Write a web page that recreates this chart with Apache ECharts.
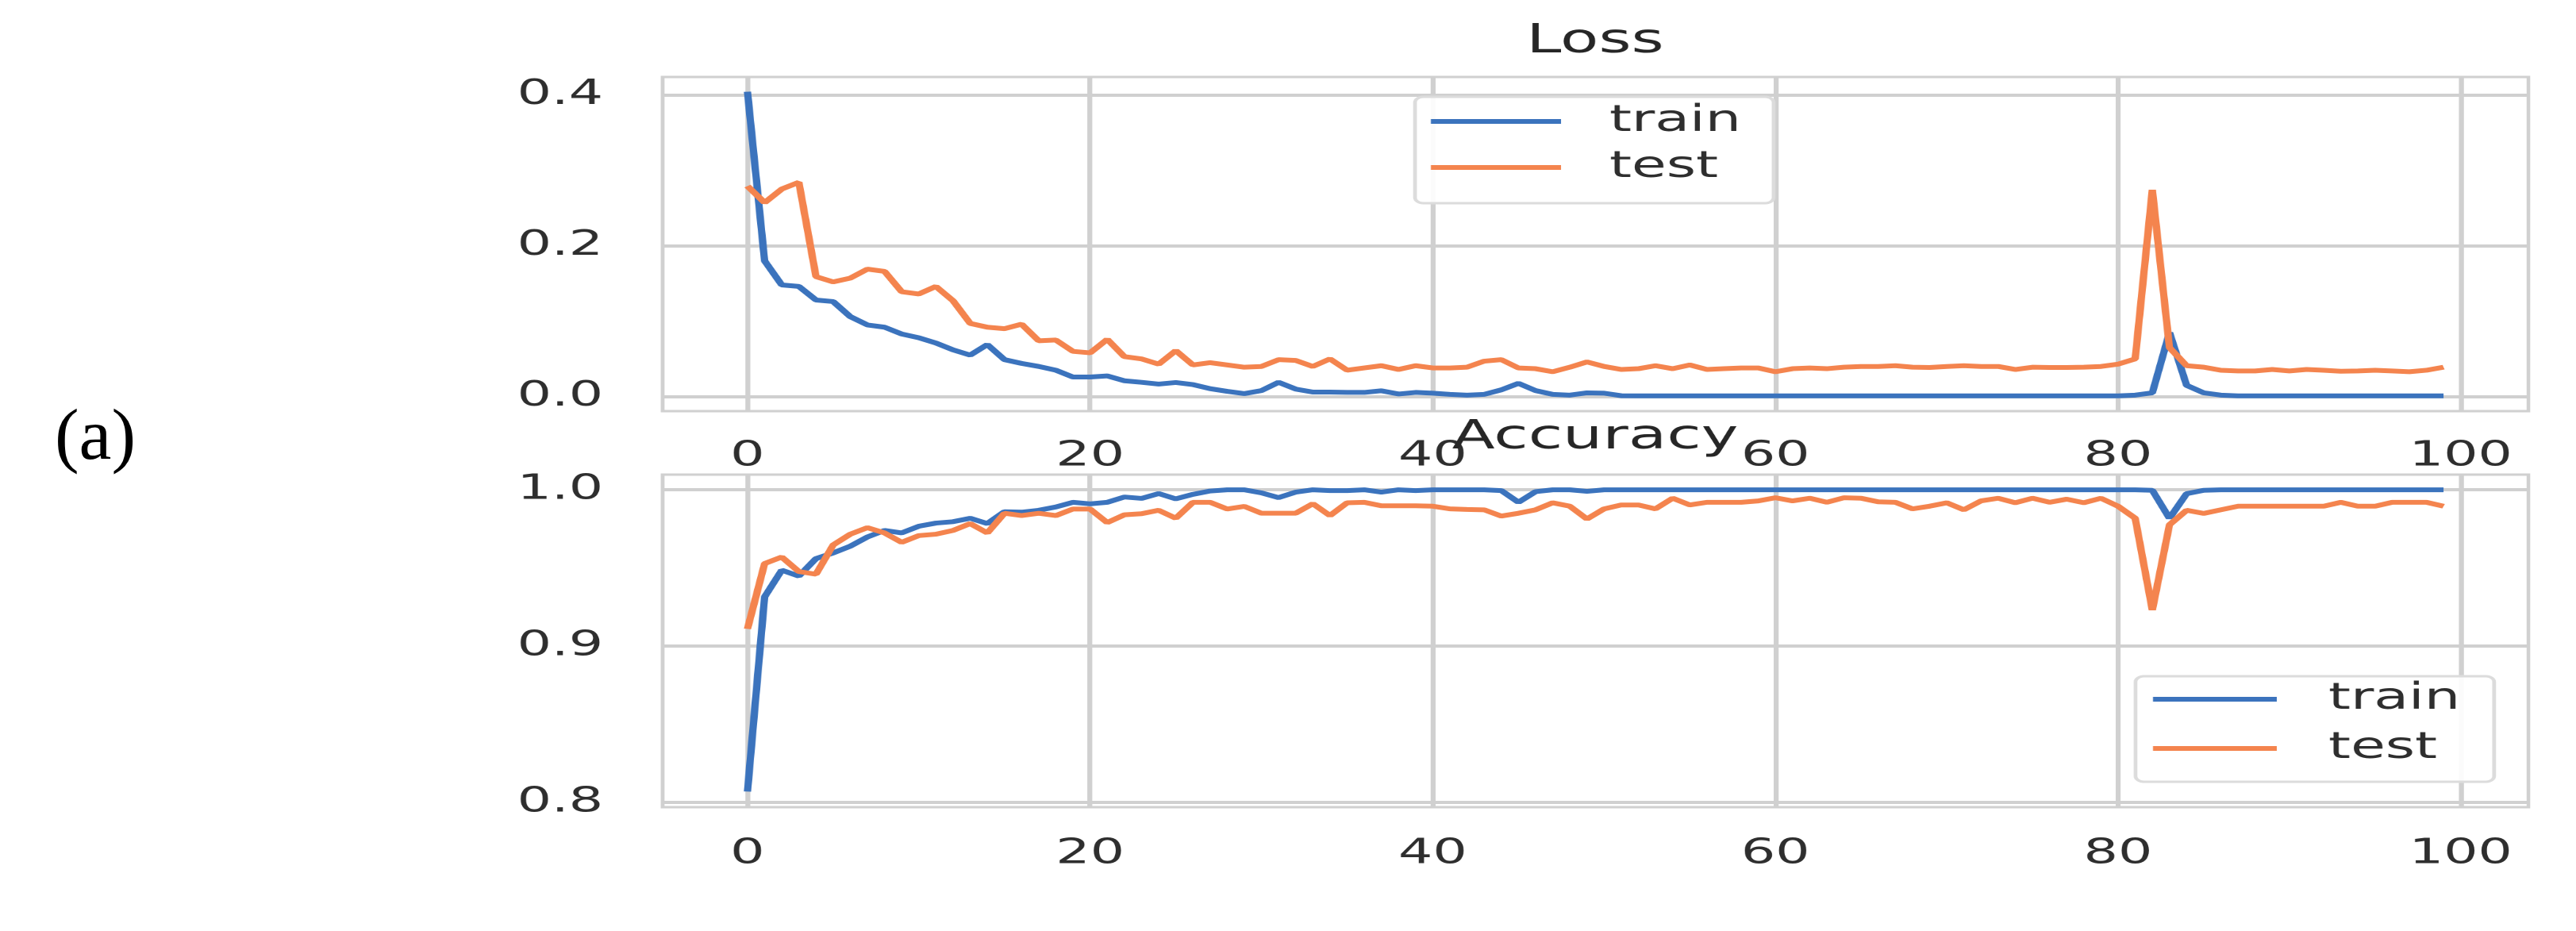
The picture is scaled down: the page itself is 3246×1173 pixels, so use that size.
<!DOCTYPE html>
<html>
<head>
<meta charset="utf-8">
<script src="https://cdn.jsdelivr.net/npm/echarts@6/dist/echarts.min.js"></script>
<style>
html,body{margin:0;padding:0;background:#ffffff;overflow:hidden;width:3246px;height:1173px;}
#main{position:absolute;left:0;top:0;height:1173px;transform-origin:0 0;}
#tag{position:absolute;left:20px;top:470px;width:220px;height:180px;}
</style>
</head>
<body>
<div id="main"></div>
<div id="tag"></div>
<script>
// ---------------- data ----------------
const xTicks = [0, 20, 40, 60, 80, 100];
const lossTicks = [0.0, 0.2, 0.4];
const accTicks = [0.8, 0.9, 1.0];
const seriesNames = ['train', 'test'];

const lossTrain = [
  0.404, 0.180, 0.148, 0.146, 0.128, 0.126, 0.106, 0.095, 0.092, 0.083,
  0.078, 0.071, 0.062, 0.055, 0.069, 0.049, 0.044, 0.040, 0.035, 0.026,
  0.026, 0.0275, 0.021, 0.019, 0.0166, 0.0187, 0.016, 0.0106, 0.007, 0.004,
  0.008, 0.019, 0.010, 0.006, 0.006, 0.0056, 0.0056, 0.0078, 0.0035, 0.0056,
  0.0046, 0.003, 0.002, 0.003, 0.009, 0.0176, 0.008, 0.003, 0.002, 0.005,
  0.0046, 0.0012, 0.001, 0.001, 0.001, 0.001, 0.001, 0.001, 0.001, 0.001,
  0.001, 0.001, 0.001, 0.001, 0.001, 0.001, 0.001, 0.001, 0.001, 0.001,
  0.001, 0.001, 0.001, 0.001, 0.001, 0.001, 0.001, 0.001, 0.001, 0.001,
  0.001, 0.002, 0.005, 0.085, 0.015, 0.005, 0.002, 0.001, 0.001, 0.001,
  0.001, 0.001, 0.001, 0.001, 0.001, 0.001, 0.001, 0.001, 0.001, 0.001
];
const lossTest = [
  0.279, 0.257, 0.275, 0.284, 0.159, 0.152, 0.157, 0.169, 0.166, 0.139,
  0.136, 0.146, 0.127, 0.097, 0.092, 0.090, 0.096, 0.074, 0.075, 0.060,
  0.058, 0.076, 0.053, 0.050, 0.043, 0.061, 0.042, 0.045, 0.042, 0.039,
  0.040, 0.049, 0.048, 0.040, 0.050, 0.035, 0.038, 0.041, 0.036, 0.041,
  0.038, 0.038, 0.039, 0.047, 0.049, 0.038, 0.037, 0.033, 0.039, 0.046,
  0.040, 0.036, 0.037, 0.041, 0.037, 0.042, 0.036, 0.037, 0.038, 0.038,
  0.033, 0.037, 0.038, 0.037, 0.039, 0.040, 0.040, 0.041, 0.039, 0.0386,
  0.040, 0.041, 0.040, 0.040, 0.036, 0.039, 0.0386, 0.0386, 0.039, 0.040,
  0.043, 0.050, 0.274, 0.065, 0.041, 0.039, 0.035, 0.034, 0.034, 0.036,
  0.034, 0.036, 0.035, 0.0336, 0.034, 0.035, 0.034, 0.033, 0.035, 0.039
];
const accTrain = [
  0.807, 0.9315, 0.9486, 0.9448, 0.956, 0.9596, 0.9639, 0.9698, 0.974, 0.9724,
  0.9767, 0.9787, 0.9796, 0.9818, 0.9784, 0.986, 0.9857, 0.9869, 0.989, 0.992,
  0.991, 0.992, 0.9954, 0.9945, 0.9976, 0.9942, 0.9971, 0.9992, 1.0, 1.0,
  0.998, 0.995, 0.9985, 1.0, 0.9995, 0.9995, 1.0, 0.9985, 1.0, 0.9995,
  1.0, 1.0, 1.0, 1.0, 0.9995, 0.992, 0.9988, 1.0, 1.0, 0.999,
  1.0, 1.0, 1.0, 1.0, 1.0, 1.0, 1.0, 1.0, 1.0, 1.0,
  1.0, 1.0, 1.0, 1.0, 1.0, 1.0, 1.0, 1.0, 1.0, 1.0,
  1.0, 1.0, 1.0, 1.0, 1.0, 1.0, 1.0, 1.0, 1.0, 1.0,
  1.0, 1.0, 0.9997, 0.9818, 0.9975, 0.9997, 1.0, 1.0, 1.0, 1.0,
  1.0, 1.0, 1.0, 1.0, 1.0, 1.0, 1.0, 1.0, 1.0, 1.0
];
const accTest = [
  0.911, 0.9528, 0.957, 0.9477, 0.946, 0.9647, 0.9716, 0.9758, 0.9724, 0.9664,
  0.9707, 0.9716, 0.974, 0.9784, 0.9724, 0.985, 0.9835, 0.985, 0.9835, 0.9877,
  0.9877, 0.979, 0.984, 0.9847, 0.9869, 0.9818, 0.992, 0.992, 0.9877, 0.9894,
  0.985, 0.985, 0.985, 0.9911, 0.9835, 0.9917, 0.992, 0.9898, 0.9898, 0.9898,
  0.9895, 0.9878, 0.9874, 0.9872, 0.9832, 0.985, 0.9872, 0.9917, 0.9895, 0.9813,
  0.9878, 0.9903, 0.9903, 0.9878, 0.9946, 0.9903, 0.992, 0.992, 0.992, 0.9929,
  0.9949, 0.9929, 0.9946, 0.992, 0.9949, 0.9946, 0.9923, 0.992, 0.9878, 0.9895,
  0.9917, 0.9872, 0.9929, 0.9946, 0.9917, 0.9946, 0.992, 0.994, 0.9917, 0.9946,
  0.9895, 0.9818, 0.9231, 0.9776, 0.9869, 0.9849, 0.9872, 0.9895, 0.9895, 0.9895,
  0.9895, 0.9895, 0.9895, 0.992, 0.9895, 0.9895, 0.992, 0.992, 0.992, 0.9895
];

// ---------------- style / layout (page pixels, divided by horizontal stretch S) ----------------
const S = 1.55;                 // horizontal stretch of the original figure
const W = 3246 / S;
const BLUE = '#3b73bd';
const ORANGE = '#f4844e';
const GRID_C = '#d0d0d0';
const TXT_C = '#2e2e2e';
const FONT = 'DejaVu Sans';
const F_TICK = 44, F_LEG = 46, F_TITLE = 51;

const mainEl = document.getElementById('main');
mainEl.style.width = W + 'px';
mainEl.style.transform = 'scaleX(' + S + ')';

const toPairs = arr => arr.map((v, i) => [i, v]);

function xAxisFor(gi, margin) {
  return {
    type: 'value', gridIndex: gi, min: -4.95, max: 103.95,
    axisLine: { show: false },
    axisTick: { show: false, customValues: xTicks },
    axisLabel: { customValues: xTicks, fontSize: F_TICK, color: TXT_C, fontFamily: FONT, margin: margin },
    splitLine: { show: true, lineStyle: { color: GRID_C, width: 4 } }
  };
}
function yAxisFor(gi, min, max, ticks) {
  return {
    type: 'value', gridIndex: gi, min: min, max: max,
    axisLine: { show: false },
    axisTick: { show: false, customValues: ticks },
    axisLabel: { customValues: ticks, fontSize: F_TICK, color: TXT_C, fontFamily: FONT, margin: 75 / S,
      formatter: v => Number(v).toFixed(1) },
    splitLine: { show: true, lineStyle: { color: GRID_C, width: 4 } }
  };
}
function lineSeries(name, data, color, xi) {
  return {
    type: 'line', name: name, xAxisIndex: xi, yAxisIndex: xi, data: toPairs(data),
    symbol: 'none', showSymbol: false, smooth: false,
    lineStyle: { width: 6, color: color }, itemStyle: { color: color },
    emphasis: { disabled: true }, z: 3
  };
}
// box: left/right page px, top; iconL/iconR page px; textL page px; row pitch; pads
function legendAt(boxL, boxR, top, iconL, iconR, textL, pitch, padT, padB) {
  const lh = 52;
  const textW = 2.33 * F_LEG;
  const padL = (iconL - boxL) / S;
  const itemW = (iconR - iconL) / S;
  const gapW = (textL - iconR) / S - 5;
  const padR = Math.max(4, boxR / S - (textL / S + textW));
  return {
    data: seriesNames, orient: 'vertical', left: boxL / S, top: top, padding: [padT, padR, padB, padL],
    itemWidth: itemW, itemHeight: 6, itemGap: pitch - lh, icon: 'rect',
    backgroundColor: 'rgba(255,255,255,0.9)', borderColor: '#dcdcdc', borderWidth: 3, borderRadius: 7,
    formatter: name => '{g| }{t|' + name + '}',
    textStyle: { fontFamily: FONT, fontSize: F_LEG, color: TXT_C,
      rich: { g: { width: gapW, fontSize: F_LEG }, t: { fontSize: F_LEG, fontFamily: FONT, color: TXT_C, lineHeight: lh } } },
    selectedMode: false, z: 10
  };
}

const chart = echarts.init(mainEl, null, { renderer: 'canvas', devicePixelRatio: 2 });
chart.setOption({
  animation: false,
  backgroundColor: '#ffffff',
  title: [
    { text: 'Loss', left: 2010 / S, top: 27, textAlign: 'center', padding: 0,
      textStyle: { fontSize: F_TITLE, fontWeight: 'normal', color: '#262626', fontFamily: FONT } },
    { text: 'Accuracy', left: 2010 / S, top: 526, textAlign: 'center', padding: 0,
      textStyle: { fontSize: F_TITLE, fontWeight: 'normal', color: '#262626', fontFamily: FONT } }
  ],
  grid: [
    { left: 835 / S, top: 97, width: 2351 / S, height: 421, show: true, borderColor: GRID_C, borderWidth: 3, backgroundColor: '#ffffff' },
    { left: 835 / S, top: 598, width: 2351 / S, height: 419, show: true, borderColor: GRID_C, borderWidth: 3, backgroundColor: '#ffffff' }
  ],
  xAxis: [ xAxisFor(0, 35), xAxisFor(1, 37) ],
  yAxis: [ yAxisFor(0, -0.0192, 0.4235, lossTicks), yAxisFor(1, 0.797, 1.0097, accTicks) ],
  legend: [
    legendAt(1783, 2235, 122, 1803, 1967, 2028, 64, 8, 22),
    legendAt(2691, 3143, 852, 2713, 2869, 2934, 68, 6, 19)
  ],
  series: [
    lineSeries('train', lossTrain, BLUE, 0),
    lineSeries('test', lossTest, ORANGE, 0),
    lineSeries('train', accTrain, BLUE, 1),
    lineSeries('test', accTest, ORANGE, 1)
  ]
});

const tag = echarts.init(document.getElementById('tag'), null, { renderer: 'canvas' });
tag.setOption({
  animation: false,
  title: { text: '(a)', left: 100, top: 38, textAlign: 'center', padding: 0,
    textStyle: { fontFamily: 'Liberation Serif', fontSize: 92, fontWeight: 'normal', color: '#000000' } }
});
</script>
</body>
</html>
